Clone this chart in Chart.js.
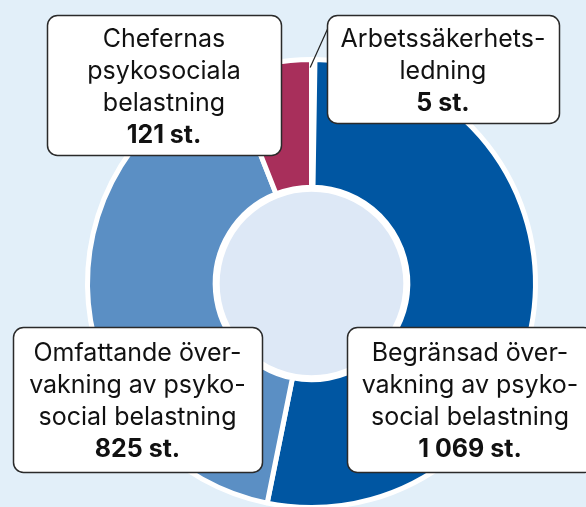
<!DOCTYPE html>
<html>
<head>
<meta charset="utf-8">
<script src="https://cdn.jsdelivr.net/npm/chart.js@4/dist/chart.umd.min.js"></script>
<style>
  html, body { margin: 0; padding: 0; background: #e2eff9; overflow: hidden; }
  #wrap { position: relative; width: 586px; height: 520px; }
</style>
</head>
<body>
<div id="wrap"><canvas id="pie"></canvas></div>
<script>
// data
const categories = [
    'Arbetssäkerhetsledning',
    'Begränsad övervakning av psykosocial belastning',
    'Omfattande övervakning av psykosocial belastning',
    'Chefernas psykosociala belastning'
];
const values = [5, 1069, 825, 121];
const labelLines = [
    ['Arbetssäkerhets-', 'ledning'],
    ['Begränsad över-', 'vakning av psyko-', 'social belastning'],
    ['Omfattande över-', 'vakning av psyko-', 'social belastning'],
    ['Chefernas', 'psykosociala', 'belastning']
];
const valueLabels = ['5 st.', '1 069 st.', '825 st.', '121 st.'];

const colors = ['#ffffff', '#0056a2', '#5b8fc4', '#a82f5b'];

// label box layout (same order as categories)
const boxes = [
    { x: 327, y: 15, w: 232, h: 108 },
    { x: 347, y: 327, w: 246, h: 145 },
    { x: 13, y: 327, w: 249, h: 145 },
    { x: 47, y: 15, w: 234, h: 140 }
];

const LINE_H = 32;
const FONT = '"Inter", "Roboto", sans-serif';

function roundRect(ctx, x, y, w, h, r) {
    ctx.beginPath();
    ctx.moveTo(x + r, y);
    ctx.lineTo(x + w - r, y);
    ctx.arcTo(x + w, y, x + w, y + r, r);
    ctx.lineTo(x + w, y + h - r);
    ctx.arcTo(x + w, y + h, x + w - r, y + h, r);
    ctx.lineTo(x + r, y + h);
    ctx.arcTo(x, y + h, x, y + h - r, r);
    ctx.lineTo(x, y + r);
    ctx.arcTo(x, y, x + r, y, r);
    ctx.closePath();
}

const labelPlugin = {
    id: 'labelBoxes',
    afterDatasetsDraw(chart) {
        const ctx = chart.ctx;
        const meta = chart.getDatasetMeta(0);
        const first = meta.data[0];

        // inner circle
        ctx.save();
        ctx.beginPath();
        ctx.arc(first.x, first.y, first.innerRadius - 2, 0, Math.PI * 2);
        ctx.fillStyle = '#dde8f6';
        ctx.fill();
        ctx.lineWidth = 5;
        ctx.strokeStyle = '#ffffff';
        ctx.stroke();
        ctx.restore();

        // leader line for the tiny slice
        const mid = (first.startAngle + first.endAngle) / 2;
        const r = first.outerRadius - 8;
        ctx.save();
        ctx.beginPath();
        ctx.moveTo(first.x + Math.cos(mid) * r - 3, first.y + Math.sin(mid) * r);
        ctx.lineTo(boxes[0].x + 1, boxes[0].y + 13);
        ctx.lineWidth = 1.2;
        ctx.strokeStyle = '#222';
        ctx.stroke();
        ctx.restore();

        // boxes with text
        boxes.forEach((b, i) => {
            ctx.save();
            roundRect(ctx, b.x + 0.5, b.y + 0.5, b.w, b.h, 10);
            ctx.fillStyle = '#ffffff';
            ctx.fill();
            ctx.lineWidth = 1.5;
            ctx.strokeStyle = '#2a2a2a';
            ctx.stroke();

            const lines = labelLines[i].concat([valueLabels[i]]);
            const cx = b.x + b.w / 2;
            const cy = b.y + b.h / 2 + 2;
            ctx.fillStyle = '#111';
            ctx.textAlign = 'center';
            ctx.textBaseline = 'middle';
            lines.forEach((t, j) => {
                const bold = j === lines.length - 1;
                ctx.font = (bold ? 'bold ' : '') + '25px ' + FONT;
                const y = cy + (j - (lines.length - 1) / 2) * LINE_H;
                ctx.fillText(t, cx, y);
            });
            ctx.restore();
        });
    }
};

const ctx = document.getElementById('pie').getContext('2d');
const chart = new Chart(ctx, {
    type: 'doughnut',
    data: {
        labels: categories,
        datasets: [{
            data: values,
            backgroundColor: colors,
            borderColor: '#ffffff',
            borderWidth: 5,
            hoverBorderWidth: 5,
            hoverOffset: 0
        }]
    },
    options: {
        responsive: true,
        maintainAspectRatio: false,
        animation: false,
        cutout: '43%',
        layout: {
            padding: { left: 85, top: 57, right: 48, bottom: 10 }
        },
        plugins: {
            legend: { display: false },
            tooltip: { enabled: false }
        }
    },
    plugins: [labelPlugin]
});
</script>
</body>
</html>
